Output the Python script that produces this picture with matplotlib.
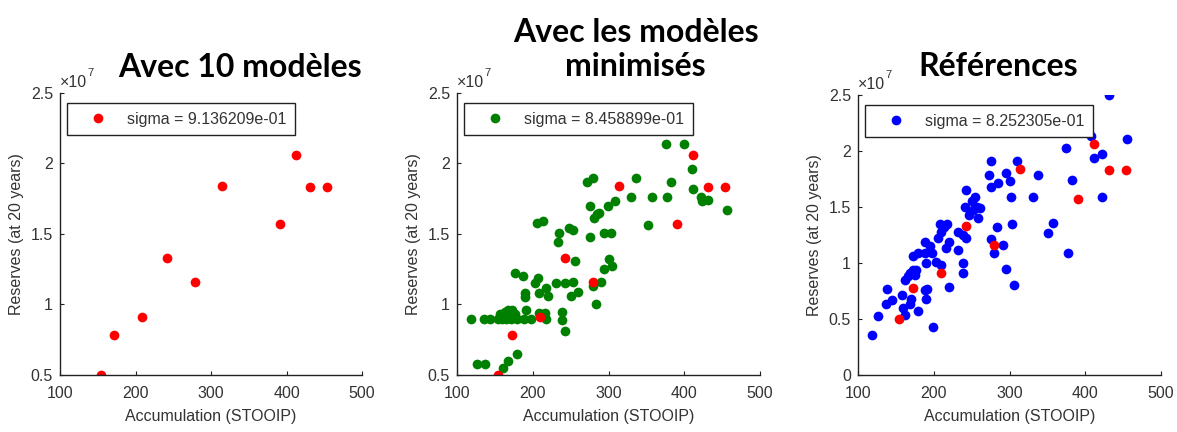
import matplotlib
matplotlib.use("Agg")
import matplotlib.pyplot as plt

# reserves are in units of 1e7
red_x = [154, 172, 209, 242, 279, 314, 391, 412, 431, 454]
red_y = [0.50, 0.78, 0.91, 1.33, 1.16, 1.84, 1.57, 2.06, 1.83, 1.83]

green_x = [118, 136, 143, 126, 137, 154, 157, 160, 163, 165, 167, 169, 171, 173, 176,
           179, 161, 167, 179, 176, 187, 190, 190, 191, 188, 198, 205, 214, 203, 207,
           208, 218, 220, 208, 216, 217, 233, 235, 231, 242, 238, 238, 242, 248, 253,
           256, 253, 251, 260, 272, 279, 276, 275, 279, 281, 285, 287, 283, 290, 294,
           294, 303, 299, 300, 304, 308, 330, 336, 352, 357, 376, 377, 382, 400, 410,
           412, 422, 423, 432, 456]
green_y = [0.90, 0.90, 0.90, 0.58, 0.58, 0.90, 0.93, 0.90, 0.95, 0.90, 0.96, 0.93, 0.90, 0.96, 0.93,
           0.90, 0.55, 0.60, 0.65, 1.22, 1.20, 1.08, 1.05, 0.96, 0.90, 0.90, 1.58, 1.59, 1.15, 1.19,
           1.08, 1.12, 1.06, 0.94, 0.94, 0.90, 1.44, 1.51, 1.15, 1.15, 0.95, 0.89, 0.81, 1.54, 1.53,
           1.31, 1.16, 1.06, 1.09, 1.87, 1.90, 1.70, 1.48, 1.13, 1.61, 1.64, 1.65, 1.00, 1.16, 1.25,
           1.51, 1.51, 1.70, 1.32, 1.27, 1.73, 1.76, 1.90, 1.56, 1.76, 2.14, 1.76, 1.87, 2.14, 1.96,
           1.82, 1.76, 1.73, 1.74, 1.67]

blue_x = [119, 127, 138, 137, 145, 158, 160, 162, 162, 166, 168, 170, 168, 173, 173,
          175, 176, 179, 179, 188, 188, 190, 188, 190, 191, 195, 198, 203, 199, 205,
          209, 208, 210, 213, 216, 220, 217, 220, 232, 232, 239, 238, 238, 241, 242,
          243, 246, 250, 254, 252, 257, 258, 261, 275, 273, 276, 279, 276, 283, 285,
          291, 295, 296, 300, 302, 303, 306, 310, 331, 337, 351, 357, 374, 377, 383,
          399, 408, 412, 422, 422, 432, 455]
blue_y = [0.36, 0.53, 0.77, 0.63, 0.67, 0.71, 0.60, 0.54, 0.85, 0.88, 0.63, 0.68, 0.91, 0.94, 1.06,
          0.89, 0.94, 0.57, 1.09, 1.19, 1.09, 1.00, 0.76, 0.68, 0.77, 1.15, 1.09, 1.01, 0.43, 1.22,
          0.98, 1.35, 1.28, 1.32, 1.13, 1.19, 1.35, 0.79, 1.12, 1.28, 1.25, 1.00, 0.91, 1.50, 1.65,
          1.22, 1.43, 1.55, 1.59, 1.47, 1.50, 1.40, 1.49, 1.91, 1.79, 1.21, 1.09, 1.68, 1.32, 1.71,
          1.16, 0.95, 1.80, 1.73, 1.59, 1.35, 0.80, 1.91, 1.59, 1.79, 1.27, 1.36, 2.03, 1.09, 1.74,
          2.31, 2.13, 1.94, 1.97, 1.59, 2.50, 2.11]

sigmas = ["9.136209e-01", "8.458899e-01", "8.252305e-01"]
titles = ["Avec 10 modèles", "Avec les modèles\nminimisés", "Références"]
title_pos = [(0.204, 0.843), (0.540, 0.885), (0.848, 0.845)]

sans = ["Liberation Sans", "DejaVu Sans"]
txt_color = "#333333"
fs = 11.5

fig = plt.figure(figsize=(11.77, 4.32), dpi=100)
axes = [fig.add_axes([0.051, 0.132, 0.2566, 0.653]),
        fig.add_axes([0.3883, 0.132, 0.2574, 0.653]),
        fig.add_axes([0.729, 0.132, 0.2574, 0.648])]

series = [(red_x, red_y, "red"), (green_x, green_y, "#008000"), (blue_x, blue_y, "#0000FF")]

for i, ax in enumerate(axes):
    sx, sy, col = series[i]
    ax.plot(sx, sy, "o", color=col, markersize=7, markeredgewidth=0,
            label="sigma = " + sigmas[i])
    if i > 0:
        ax.plot(red_x, red_y, "o", color="red", markersize=7, markeredgewidth=0)

    ax.set_xlim(100, 500)
    ax.set_xticks([100, 200, 300, 400, 500])
    if i < 2:
        ax.set_ylim(0.5, 2.5)
        ax.set_yticks([0.5, 1, 1.5, 2, 2.5])
        ax.set_yticklabels(["0.5", "1", "1.5", "2", "2.5"])
    else:
        ax.set_ylim(0, 2.5)
        ax.set_yticks([0, 0.5, 1, 1.5, 2, 2.5])
        ax.set_yticklabels(["0", "0.5", "1", "1.5", "2", "2.5"])

    for s in ["top", "right"]:
        ax.spines[s].set_visible(False)
    for s in ["left", "bottom"]:
        ax.spines[s].set_color("#222222")
        ax.spines[s].set_linewidth(1.0)
    ax.tick_params(direction="in", length=3, width=0.8, colors="#222222",
                   labelcolor=txt_color, labelsize=fs)
    ax.tick_params(axis="x", pad=8)
    ax.tick_params(axis="y", pad=5)
    for lab in ax.get_xticklabels() + ax.get_yticklabels():
        lab.set_family(sans)

    ax.set_xlabel("Accumulation (STOOIP)", family=sans, fontsize=fs,
                  color=txt_color, labelpad=6)
    ax.set_ylabel("Reserves (at 20 years)", family=sans, fontsize=fs,
                  color=txt_color, labelpad=5)

    ax.text(0.0, 1.021, "×10", transform=ax.transAxes, family=sans,
            fontsize=fs, color=txt_color, ha="left", va="baseline")
    ax.text(0.092, 1.06, "7", transform=ax.transAxes, family=sans,
            fontsize=8, color=txt_color, ha="left", va="baseline")

    leg = ax.legend(loc="upper left", bbox_to_anchor=(0.023, 0.965), borderaxespad=0,
                    fancybox=False, framealpha=1, edgecolor="#222222",
                    handlelength=2.8, handletextpad=0.4, borderpad=0.55,
                    prop={"family": sans, "size": fs})
    leg.get_frame().set_linewidth(1.0)
    for t in leg.get_texts():
        t.set_color(txt_color)

for (tx, ty), t in zip(title_pos, titles):
    fig.text(tx, ty, t, family=["Lato", "DejaVu Sans"], fontweight="bold",
             fontsize=23, ha="center", va="center", linespacing=1.2)

fig.savefig("out.png", dpi=100)
